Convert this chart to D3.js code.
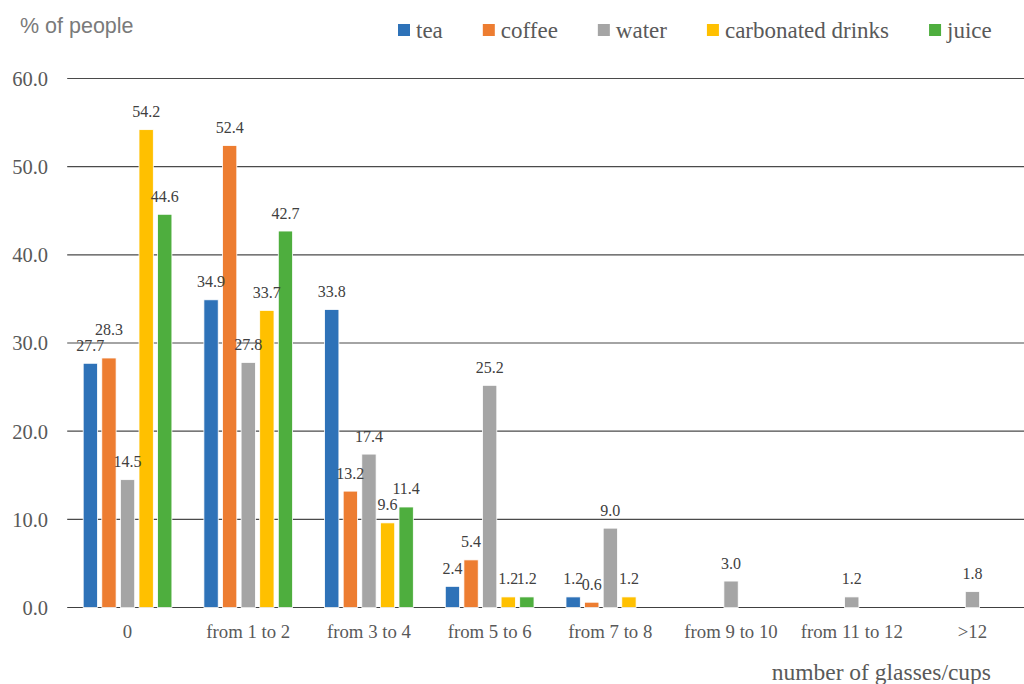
<!DOCTYPE html>
<html>
<head>
<meta charset="utf-8">
<script src="https://cdn.jsdelivr.net/npm/d3@7"></script>
<style>
  html, body { margin: 0; padding: 0; background: #fff; }
  svg { display: block; }
  .serif { font-family: "Liberation Serif", "Times New Roman", Times, "DejaVu Serif", serif; }
  .sans { font-family: "Liberation Sans", Arial, Helvetica, sans-serif; }
</style>
</head>
<body>
<div id="chart"></div>
<script>
// Daily drink consumption: share of people by number of glasses/cups
const categories = ["0", "from 1 to 2", "from 3 to 4", "from 5 to 6", "from 7 to 8", "from 9 to 10", "from 11 to 12", ">12"];
const seriesNames = ["tea", "coffee", "water", "carbonated drinks", "juice"];
const tea        = [27.7, 34.9, 33.8, 2.4, 1.2, 0, 0, 0];
const coffee     = [28.3, 52.4, 13.2, 5.4, 0.6, 0, 0, 0];
const water      = [14.5, 27.8, 17.4, 25.2, 9.0, 3.0, 1.2, 1.8];
const carbonated = [54.2, 33.7, 9.6, 1.2, 1.2, 0, 0, 0];
const juice      = [44.6, 42.7, 11.4, 1.2, 0, 0, 0, 0];
const yTicks     = [0, 10, 20, 30, 40, 50, 60];
const colors     = ["#2E72B8", "#ED7D31", "#A5A5A5", "#FFC000", "#4EAE3E"];

const seriesValues = [tea, coffee, water, carbonated, juice];

const W = 1024, H = 684;
const svg = d3.select("#chart").append("svg")
  .attr("width", W).attr("height", H);

const plotLeft = 67.2, plotRight = 1024;
const x0 = d3.scaleBand().domain(categories).range([67.2, 1032.8]).padding(0);
const groupW = 93;
const x1 = d3.scaleBand().domain(seriesNames)
  .range([(x0.bandwidth() - groupW) / 2, (x0.bandwidth() + groupW) / 2])
  .paddingInner(0.23).paddingOuter(0.115);
const y = d3.scaleLinear().domain([0, 60]).range([607.5, 78.5]);
const color = d3.scaleOrdinal().domain(seriesNames).range(colors);

// Gridlines
svg.append("g").selectAll("line").data(yTicks).join("line")
  .attr("x1", plotLeft).attr("x2", plotRight)
  .attr("y1", d => y(d)).attr("y2", d => y(d))
  .attr("stroke", d => d === 0 ? "#404040" : "#4a4a4a")
  .attr("stroke-width", 1.2);

// Y tick labels
const yAxis = d3.axisLeft(y).tickValues(yTicks).tickFormat(d3.format(".1f")).tickSize(0).tickPadding(0);
const yG = svg.append("g").attr("transform", "translate(48,0)").call(yAxis)
  .attr("font-family", null).attr("font-size", null);
yG.select(".domain").remove();
yG.selectAll("text")
  .attr("class", "serif")
  .style("font-size", "20.5px").attr("fill", "#595959")
  .attr("dy", "0.34em");

// X category labels
const xAxis = d3.axisBottom(x0).tickSize(0).tickPadding(0);
const xG = svg.append("g").attr("transform", "translate(0,638)").call(xAxis)
  .attr("font-family", null).attr("font-size", null);
xG.select(".domain").remove();
xG.selectAll("text")
  .attr("class", "serif")
  .style("font-size", "18.8px").attr("fill", "#595959")
  .attr("dy", 0).attr("y", 0);

// Bars
const rows = [];
categories.forEach((c, i) => {
  seriesNames.forEach((s, j) => {
    const v = seriesValues[j][i];
    if (v > 0) rows.push({ cat: c, series: s, value: v });
  });
});

svg.append("g").selectAll("rect").data(rows).join("rect")
  .attr("x", d => x0(d.cat) + x1(d.series))
  .attr("y", d => y(d.value))
  .attr("width", x1.bandwidth())
  .attr("height", d => y(0) - y(d.value))
  .attr("fill", d => color(d.series))
  .attr("stroke", "#fff").attr("stroke-width", 0.8);

// Value labels, lifted when they collide with a neighbour in the same group
const labelG = svg.append("g");
const labels = labelG.selectAll("text").data(rows).join("text")
  .attr("class", "serif")
  .attr("x", d => x0(d.cat) + x1(d.series) + x1.bandwidth() / 2)
  .attr("y", d => y(d.value) - 12.5)
  .attr("text-anchor", "middle")
  .style("font-size", "16px").attr("fill", "#404040")
  .text(d => d3.format(".1f")(d.value));

const placed = [];
labels.each(function(d) {
  const node = d3.select(this);
  const w = this.getComputedTextLength();
  const cx = +node.attr("x");
  let base = +node.attr("y");
  const capH = 11, inset = 2.5;
  let moved = true;
  while (moved) {
    moved = false;
    for (const p of placed) {
      if (p.cat !== d.cat) continue;
      const hOverlap = Math.abs(p.cx - cx) < (p.w + w) / 2 - 2 * inset;
      const vOverlap = Math.abs(p.base - base) < capH;
      if (hOverlap && vOverlap) { base = p.base - 16; moved = true; }
    }
  }
  node.attr("y", base);
  placed.push({ cat: d.cat, cx, w, base });
});

// Legend
const legend = svg.append("g");
let lx = 398;
seriesNames.forEach((s, j) => {
  legend.append("rect")
    .attr("x", lx).attr("y", 24).attr("width", 12).attr("height", 12)
    .attr("fill", colors[j]);
  const t = legend.append("text")
    .attr("class", "serif")
    .attr("x", lx + 18).attr("y", 37.5)
    .style("font-size", "23px").attr("fill", "#595959")
    .text(s);
  lx = lx + 18 + t.node().getComputedTextLength() + 40;
});

// Axis titles
svg.append("text")
  .attr("class", "sans")
  .attr("x", 20).attr("y", 32.5)
  .style("font-size", "21.5px").attr("fill", "#7a7a7a")
  .text("% of people");

svg.append("text")
  .attr("class", "serif")
  .attr("x", 991).attr("y", 680)
  .attr("text-anchor", "end")
  .style("font-size", "23.5px").attr("fill", "#595959")
  .text("number of glasses/cups");
</script>
</body>
</html>
